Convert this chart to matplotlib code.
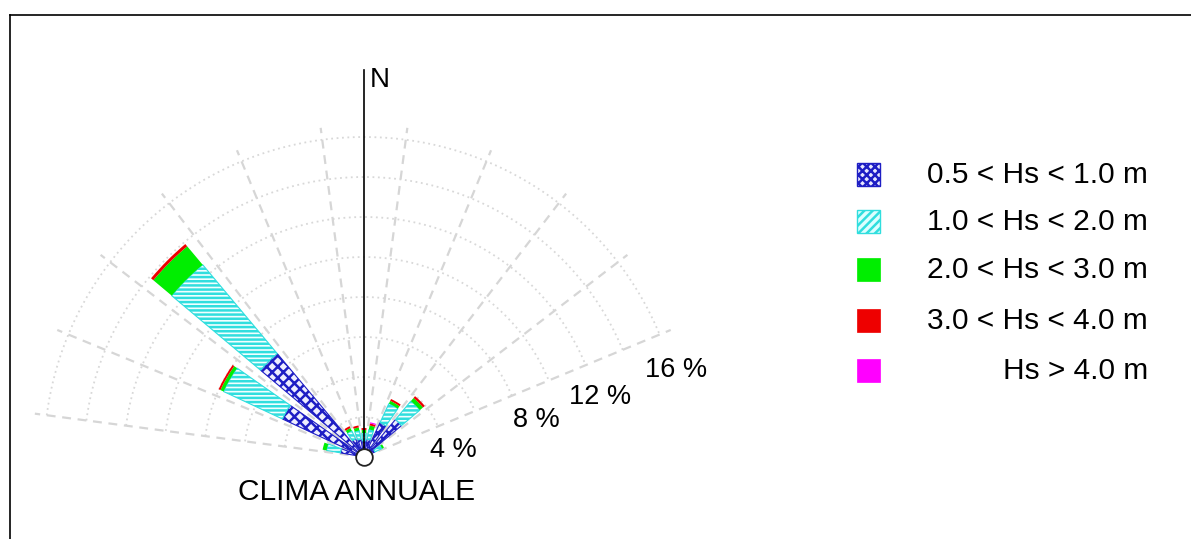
import numpy as np
import matplotlib
matplotlib.use('Agg')
import matplotlib.pyplot as plt
from matplotlib.patches import Rectangle
from matplotlib.lines import Line2D

plt.rcParams['font.family'] = ['Liberation Sans', 'DejaVu Sans']
plt.rcParams['hatch.linewidth'] = 1.8

# ---- data (percent of occurrence per direction sector) ----
directions = [285, 300, 315, 330, 345, 0, 15, 30, 45, 60]
hs_05_10 = [1.2, 4.5, 6.75, 1.0, 0.9, 0.8, 0.9, 1.9, 2.45, 0.6]
hs_10_20 = [0.7, 3.25, 5.8, 0.45, 0.45, 0.4, 0.5, 1.05, 1.2, 0.4]
hs_20_30 = [0.2, 0.17, 1.2, 0.15, 0.15, 0.15, 0.2, 0.15, 0.2, 0.1]
hs_30_40 = [0.0, 0.1, 0.15, 0.1, 0.1, 0.1, 0.1, 0.1, 0.12, 0.0]
hs_gt_40 = [0.0, 0.0, 0.0, 0.0, 0.0, 0.0, 0.06, 0.0, 0.0, 0.0]
class_labels = ['0.5 < Hs < 1.0 m', '1.0 < Hs < 2.0 m', '2.0 < Hs < 3.0 m',
                '3.0 < Hs < 4.0 m', 'Hs > 4.0 m']
ring_values = [2, 4, 6, 8, 10, 12, 14, 16]
ring_label_texts = ['4 %', '8 %', '12 %', '16 %']
spoke_dirs = [277.5, 292.5, 307.5, 322.5, 337.5, 352.5, 7.5, 22.5, 37.5, 52.5, 67.5]
title = 'CLIMA ANNUALE'

W, H = 1191, 539
fig = plt.figure(figsize=(W / 100, H / 100), dpi=100)

def fx(x):
    return x / W

def fy(y):
    return 1 - y / H

# polar axes centred on the rose origin
cx, cy, R, RMAX = 364, 457, 400, 20.0
ax = fig.add_axes([fx(cx - R), fy(cy + R), 2 * R / W, 2 * R / H], projection='polar')
ax.set_theta_zero_location('N')
ax.set_theta_direction(-1)
ax.set_ylim(0, RMAX)
ax.axis('off')

# grid: dotted rings and dashed spokes
arc = np.deg2rad(np.linspace(277.5, 360 + 67.5, 300))
for rv in ring_values:
    ax.plot(arc, np.full_like(arc, rv), color='#d8d8d8', lw=1.3, ls=(0, (1, 2)), zorder=1)
for sd in spoke_dirs:
    ax.plot([np.deg2rad(sd)] * 2, [0, 16.6], color='#d6d6d6', lw=1.6, ls=(0, (4, 3)), zorder=1)

# stacked bars
theta = np.deg2rad(directions)
width = np.deg2rad(10)
classes = [hs_05_10, hs_10_20, hs_20_30, hs_30_40, hs_gt_40]
bar_styles = [
    dict(facecolor='#eeeeff', edgecolor='#1e1ec4', hatch='xxx', linewidth=0.8),
    dict(facecolor='#f2ffff', edgecolor='#30dede', hatch='----', linewidth=0.8),
    dict(facecolor='#00ee00', edgecolor='none', linewidth=0),
    dict(facecolor='#ee0000', edgecolor='none', linewidth=0),
    dict(facecolor='#ff00ff', edgecolor='none', linewidth=0),
]
bottom = np.zeros(len(directions))
for vals, st in zip(classes, bar_styles):
    v = np.array(vals)
    m = v > 0
    ax.bar(theta[m], v[m], width=width, bottom=bottom[m], zorder=3, **st)
    bottom = bottom + v

# north line and central circle
ax.plot([0, 0], [0, 19.35], color='black', lw=1.2, zorder=4)
ax.plot(0, 0, 'o', ms=12, mfc='white', mec='#222222', mew=1.3, zorder=6, clip_on=False)
fig.text(fx(370), fy(80), 'N', fontsize=20, ha='left', va='center')

# ring labels
label_pos = [(85.5, 4.46), (77.9, 8.8), (75.8, 12.2), (74.4, 16.2)]
for (b, r), t in zip(label_pos, ring_label_texts):
    ax.text(np.deg2rad(b), r, t, fontsize=19.5, ha='center', va='center', zorder=5)

fig.text(fx(357), fy(492), title, fontsize=21.5, ha='center', va='center')

# legend (manual, right-aligned labels)
legend_styles = [
    dict(facecolor='#e8e8ff', edgecolor='#1e1ec4', hatch='xxxx', linewidth=1.0),
    dict(facecolor='#dcffff', edgecolor='#30dede', hatch='////', linewidth=1.0),
    dict(facecolor='#00ee00', edgecolor='#00ee00', linewidth=0.5),
    dict(facecolor='#ee0000', edgecolor='#ee0000', linewidth=0.5),
    dict(facecolor='#ff00ff', edgecolor='#ff00ff', linewidth=0.5),
]
row_y = [175, 222, 270, 321, 371]
for yy, st, lab in zip(row_y, legend_styles, class_labels):
    fig.add_artist(Rectangle((fx(857), fy(yy + 11)), 23 / W, 23 / H,
                             transform=fig.transFigure, **st))
    fig.text(fx(1148), fy(yy), lab, fontsize=21.5, ha='right', va='center')

# frame lines (top and left)
fig.add_artist(Line2D([fx(10), 1.0], [fy(15), fy(15)], color='black', lw=1.2,
                      transform=fig.transFigure))
fig.add_artist(Line2D([fx(10), fx(10)], [fy(15), 0.0], color='black', lw=1.2,
                      transform=fig.transFigure))

fig.savefig('out.png', dpi=100)
